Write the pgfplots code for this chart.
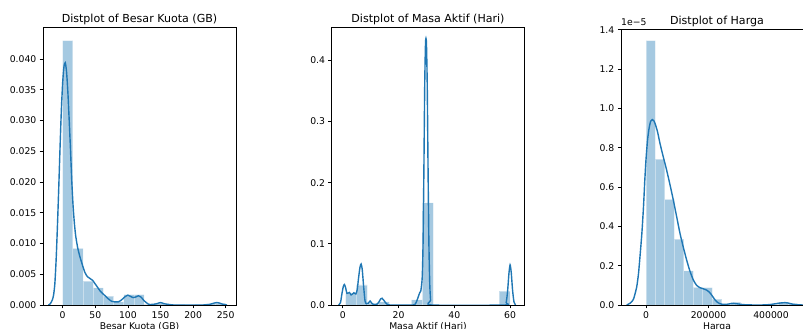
\documentclass[border=0pt]{standalone}
\usepackage{pgfplots}
\pgfplotsset{compat=1.18}
\usepackage{fontspec}
\setmainfont{DejaVu Sans}
\definecolor{mplblue}{HTML}{1F77B4}
\pgfplotsset{
 every axis title/.style={font=\fontsize{11.1}{11.1}\selectfont, at={(axis description cs:0.5,1)}, anchor=base, yshift=4.6bp, inner sep=0pt},
 mpl/.style={
  scale only axis, anchor=south west, axis on top,
  scaled ticks=false,
  tick align=outside, tick pos=left,
  major tick length=3.25bp,
  every tick/.style={black, line width=0.75bp},
  axis line style={black, line width=0.75bp},
  ticklabel style={font=\fontsize{9.3}{9.3}\selectfont, inner sep=0pt},
  xticklabel style={anchor=north, yshift=-3.25bp},
  yticklabel style={anchor=east, xshift=-3.25bp},
  xlabel style={font=\fontsize{9.3}{9.3}\selectfont, at={(axis description cs:0.5,0)}, anchor=north, yshift=-17.2bp, inner sep=0pt},
  ymin=0,
 },
 hist/.style={ybar interval, fill=mplblue, fill opacity=0.4, draw=white, draw opacity=0.4, line width=0.93bp},
 kde/.style={mplblue, line width=1.4bp, smooth, tension=0.4, mark=none},
}
\begin{document}
\begin{tikzpicture}
% ---------- Panel 1 ----------
\begin{axis}[mpl, name=a1, at={(43bp,24bp)}, width=193bp, height=277.7bp,
  xmin=-30.2, xmax=265.8, ymax=0.04515,
  xtick={0,50,100,150,200,250}, xticklabels={0,50,100,150,200,250},
  ytick={0,0.005,0.01,0.015,0.02,0.025,0.03,0.035,0.04},
  yticklabels={0.000,0.005,0.010,0.015,0.020,0.025,0.030,0.035,0.040},
  title={Distplot of Besar Kuota (GB)}, xlabel={Besar Kuota (GB)}]
\addplot[hist] coordinates {
(0,0.0430) (15.625,0.0092) (31.25,0.0039) (46.875,0.0028) (62.5,0.00145) (78.125,0.0005)
(93.75,0.0017) (109.375,0.0017) (125,0.0001) (140.625,0.0003) (156.25,0.0001) (171.875,0.0001)
(187.5,0) (203.125,0.0001) (218.75,0.0002) (234.375,0.0003) (250,0)};
\addplot[kde] coordinates {
(-22,0) (-19,0.0002) (-16,0.0008) (-14,0.0016) (-12,0.0035) (-10,0.0075) (-8,0.0130) (-6,0.0192)
(-4,0.0258) (-2,0.0318) (0,0.0362) (2,0.0388) (4,0.0394) (6,0.0378) (8,0.0345) (10,0.0300)
(12,0.0252) (14,0.0200) (16,0.0160) (18,0.0132) (20,0.0112) (23,0.0093) (26,0.0080) (30,0.0066)
(34,0.0053) (38,0.0046) (42,0.0043) (46,0.0040) (50,0.0034) (54,0.0028) (58,0.0022) (62,0.0018)
(66,0.0014) (70,0.0010) (75,0.0006) (80,0.0005) (85,0.0005) (90,0.0008) (95,0.0013) (100,0.0016)
(104,0.0014) (108,0.0012) (112,0.0013) (116,0.0015) (120,0.0013) (124,0.0008) (128,0.0004)
(132,0.0001) (138,0.0001) (144,0.0002) (150,0.0004) (156,0.0002) (162,0.0001) (170,0) (180,0)
(200,0) (215,0) (225,0.0001) (232,0.0003) (236,0.0004) (241,0.0003) (246,0.0001) (252,0)};
\end{axis}
% ---------- Panel 2 ----------
\begin{axis}[mpl, name=a2, at={(331.7bp,24bp)}, width=192.6bp, height=277.7bp,
  xmin=-3.95, xmax=65.1, ymax=0.4539,
  xtick={0,20,40,60}, xticklabels={0,20,40,60},
  ytick={0,0.1,0.2,0.3,0.4}, yticklabels={0.0,0.1,0.2,0.3,0.4},
  title={Distplot of Masa Aktif (Hari)}, xlabel={Masa Aktif (Hari)}]
\addplot[hist] coordinates {
(1,0.019) (4.933,0.0327) (8.867,0.003) (12.8,0.005) (16.733,0) (20.667,0) (24.6,0.0085)
(28.533,0.167) (32.467,0) (36.4,0) (40.333,0) (44.267,0) (48.2,0) (52.133,0) (56.067,0.0225) (60,0)};
\addplot[kde] coordinates {
(-1.5,0) (-0.8,0.004) (-0.3,0.018) (0.2,0.030) (0.6,0.0335) (1.0,0.029) (1.5,0.019) (2.0,0.0195)
(2.4,0.0205) (3.0,0.0165) (3.5,0.018) (4.0,0.020) (4.7,0.018) (5.2,0.025) (5.7,0.045) (6.2,0.062)
(6.6,0.067) (7.0,0.058) (7.5,0.030) (8.0,0.0065) (8.5,0.002) (9.2,0.003) (9.8,0.0065) (10.4,0.003)
(11.0,0.0008) (12.2,0.001) (13.0,0.005) (13.6,0.010) (14.1,0.011) (14.7,0.008) (15.3,0.004)
(16.0,0.001) (17,0) (25,0) (25.9,0.001) (26.5,0.006) (27.1,0.0136) (27.6,0.020) (28.0,0.023)
(28.5,0.045) (28.8,0.10) (29.1,0.22) (29.4,0.36) (29.7,0.43) (30.0,0.43) (30.3,0.36) (30.6,0.22)
(30.9,0.10) (31.2,0.035) (31.5,0.008) (31.9,0) (58,0) (58.6,0.004) (59.1,0.022) (59.6,0.052)
(60.0,0.0655) (60.4,0.054) (60.9,0.024) (61.4,0.005) (62,0)};
\end{axis}
% ---------- Panel 3 ----------
\begin{axis}[mpl, name=a3, at={(621bp,24bp)}, width=192bp, height=275.7bp,
  xmin=-80000, xmax=534400, ymax=1.402,
  xtick={0,200000,400000}, xticklabels={0,200000,400000},
  ytick={0,0.2,0.4,0.6,0.8,1.0,1.2,1.4}, yticklabels={0.0,0.2,0.4,0.6,0.8,1.0,1.2,1.4},
  title={Distplot of Harga}, xlabel={Harga}]
\addplot[hist] coordinates {
(0,1.345) (30300,0.7415) (60600,0.537) (90900,0.335) (121200,0.174) (151500,0.090) (181800,0.088)
(212100,0.030) (242400,0.003) (272700,0.014) (303000,0.003) (333300,0) (363600,0) (393900,0.003)
(424200,0.014) (454500,0.008) (484800,0.002) (515100,0)};
\addplot[kde] coordinates {
(-62000,0) (-50000,0.01) (-40000,0.03) (-30000,0.09) (-24000,0.16) (-18000,0.27) (-13000,0.37)
(-8000,0.50) (-4000,0.63) (0,0.74) (5000,0.84) (10000,0.90) (15000,0.935) (20000,0.943)
(25000,0.937) (30000,0.918) (37000,0.88) (45000,0.82) (55000,0.755) (66000,0.686) (77000,0.61)
(87500,0.533) (98000,0.45) (108800,0.364) (120000,0.29) (130000,0.229) (140000,0.175)
(151500,0.127) (162000,0.10) (172800,0.088) (184000,0.082) (194000,0.076) (202000,0.066)
(210000,0.051) (218000,0.032) (226000,0.017) (236000,0.007) (247500,0.003) (260000,0.004)
(272000,0.007) (281000,0.008) (292000,0.006) (305000,0.003) (320000,0.001) (350000,0)
(380000,0.0005) (400000,0.003) (420000,0.008) (435000,0.011) (445000,0.012) (455000,0.010)
(470000,0.004) (485000,0.001) (505000,0) (534000,0)};
\end{axis}
\node[anchor=base west, inner sep=0pt, font=\fontsize{9.3}{9.3}\selectfont] at ([yshift=4.2bp]a3.north west) {1e−5};
\pgfresetboundingbox
\useasboundingbox (0,0) rectangle (803bp,329bp);
\end{tikzpicture}
\end{document}
